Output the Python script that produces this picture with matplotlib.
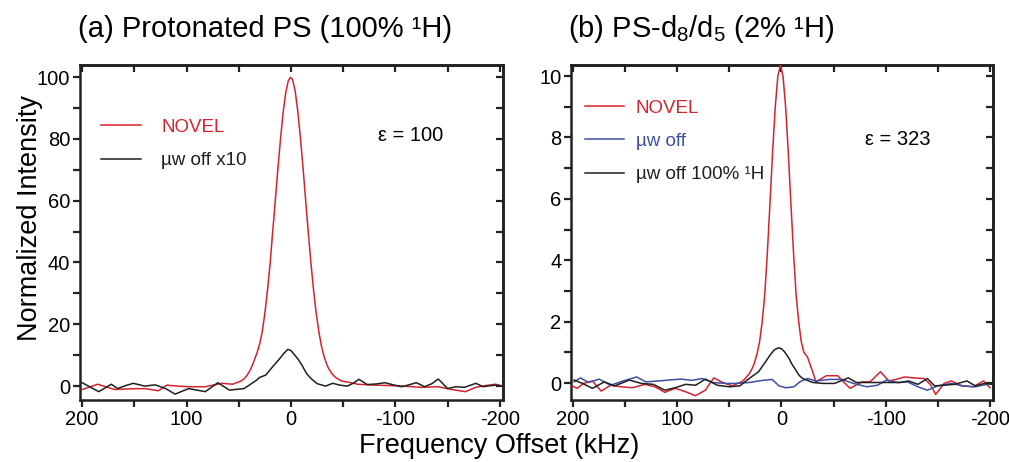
import matplotlib
matplotlib.use("Agg")
import matplotlib.pyplot as plt
from matplotlib.ticker import MultipleLocator

plt.rcParams['font.family'] = ['Liberation Sans', 'DejaVu Sans']
plt.rcParams['mathtext.fontset'] = 'custom'
plt.rcParams['mathtext.rm'] = 'Liberation Sans'
plt.rcParams['mathtext.it'] = 'Liberation Sans:italic'

# ---------------- data ----------------
# Panel (a): protonated PS
a_novel_x = [200, 185, 169, 155, 140, 127, 119, 108, 98, 82, 66, 56, 48, 45, 42.5, 40, 37.5, 35, 32.5, 30,
             27.5, 25, 22.5, 20, 17.5, 15, 12.5, 10, 7.5, 5, 2.5, 0.5, -1.5, -4, -6.5, -9, -11.5, -14,
             -16.5, -19, -21.5, -24, -26.5, -29, -31.5, -34, -36.5, -39, -42, -45, -49, -56, -64, -80,
             -93, -106, -116, -125, -141, -154, -167, -177, -187, -196, -202]
a_novel_y = [-1.1, 0.6, -1.1, -0.9, -0.8, -1.5, 0.3, 0.0, -0.2, -0.2, 0.9, 0.6, 1.6, 2.3, 3.3, 4.6, 6.3, 8.5, 10.8, 13.6,
             17.6, 23.5, 31, 39.5, 50, 60, 70.5, 80, 88.5, 95, 98.9, 99.9, 99.2, 95.5, 89, 80.5, 70.8, 60.3,
             50, 40.2, 31.5, 24, 18, 13.2, 9.8, 7.2, 5.4, 4.1, 3.0, 2.3, 1.6, 1.2, 0.6, 0.3,
             0.2, 0.0, -0.2, -0.4, -0.2, -1.1, -1.8, -0.4, 0.2, 0.6, 0.0]

a_off_x = [200, 184, 172, 166, 158, 151, 140, 130, 120, 111, 98, 82, 70, 59, 45, 40, 33, 30, 24, 17, 12, 7, 3, 0,
           -3, -7, -11, -15, -20, -25, -33, -40, -47, -54, -60, -65, -73, -82, -90, -98, -106, -113, -120,
           -128, -135, -141, -150, -158, -166, -172, -177, -184, -190, -196, -203]
a_off_y = [1.1, -1.8, 0.6, -0.8, 0.2, 0.9, 0.0, 0.4, -0.8, -2.6, -0.8, -1.8, 1.1, -1.3, -0.8, 0.3, 1.9, 2.8, 3.6, 6.5, 8.4, 10.5, 11.9, 11.5,
           10.3, 8.6, 6.5, 4.0, 2.2, 0.8, 0.0, 0.9, 0.3, 0.0, 1.0, 2.2, 0.5, 0.7, 1.1, 0.4, -0.2, 0.4, 1.1,
           -0.2, 0.8, 2.3, -0.8, -0.2, -0.4, 0.3, 0.9, -0.2, 0.1, 0.3, 0.0]

# Panel (b): PS-d8/d5
b_novel_x = [201, 196, 190, 181.5, 173, 164, 154, 143, 131, 121.5, 112, 102, 92, 82.5, 73, 65, 56.5, 47, 37, 31,
             28.5, 26, 23.5, 21, 18.5, 16, 13.5, 11, 8.5, 6, 3.5, 1, -1.5, -4, -6.5, -9, -11.5, -14, -16.5,
             -19, -21.5, -25, -27.5, -30, -33, -43, -54, -61, -66, -77, -85, -95, -103, -110, -118, -127,
             -137, -143, -148, -156, -163, -173, -184, -194, -200]
b_novel_y = [-0.09, -0.17, -0.01, 0.07, -0.26, -0.07, -0.12, -0.15, -0.04, -0.12, -0.30, -0.17, -0.28, -0.41, -0.23, 0.17, 0.02, -0.09, 0.07, 0.3,
             0.45, 0.65, 0.95, 1.35, 2.0, 2.9, 4.28, 5.88, 7.53, 8.98, 9.99, 10.35, 9.99, 8.98, 7.53, 5.88, 4.28, 2.9, 2.0,
             1.35, 1.0, 0.85, 0.6, 0.37, 0.04, 0.24, 0.24, -0.01, -0.17, 0.04, 0.04, 0.37, 0.07, 0.12, 0.2, 0.17,
             0.15, -0.05, -0.37, -0.01, 0.07, -0.09, -0.12, 0.07, -0.15]

b_off_x = [199, 193, 185, 175, 164, 152, 139, 130, 118, 105, 96, 86, 76, 66, 53, 44, 31, 18, 9, 2.4, -4, -7.3,
           -12, -18, -25, -33, -46, -58, -69, -82, -92, -101, -111, -121, -131, -140, -150, -163, -174, -186, -197]
b_off_y = [0.04, 0.17, 0.02, 0.13, -0.07, 0.07, 0.2, 0.04, 0.07, 0.11, 0.13, 0.09, 0.15, 0.02, -0.01, -0.01, 0.02, 0.09, 0.12, -0.09, -0.15, -0.14,
           -0.12, 0.05, 0.15, 0.07, 0.12, 0.12, -0.01, -0.12, -0.07, 0.1, 0.02, 0.04, -0.12, -0.23, -0.09, -0.01, -0.09, -0.12, -0.04]

b_ref_x = [199, 191, 181.5, 170, 160, 146, 134.5, 123, 112, 102, 92, 82.5, 73, 61.5, 50, 40, 31, 22, 15.4, 11, 7, 3, 0,
           -3, -7.3, -10, -13.8, -17, -20.3, -30, -40, -51, -64, -72, -87, -101, -114, -122, -131, -140, -147,
           -156, -166, -178, -186, -195, -202]
b_ref_y = [0.1, -0.01, -0.17, 0.04, -0.09, 0.1, -0.01, -0.04, -0.23, -0.15, -0.04, -0.07, 0.13, -0.07, -0.12, -0.09, 0.15, 0.37, 0.69, 0.91, 1.08, 1.15, 1.12,
           1.02, 0.8, 0.62, 0.42, 0.25, 0.15, 0.02, -0.01, -0.01, 0.17, 0.02, 0.02, 0.02, 0.02, 0.07, -0.04, 0.15, -0.09,
           -0.07, -0.04, 0.07, -0.09, -0.01, -0.04]

x_ticks = [200, 100, 0, -100, -200]
x_tick_labels = ['200', '100', '0', '-100', '-200']

RED = '#d3232e'
BLUE = '#3d4fa3'
BLACK = '#202020'

# ---------------- figure ----------------
fig = plt.figure(figsize=(10.09, 4.62), dpi=100)
W, H = 1009, 462

def make_ax(left_px, right_px):
    return fig.add_axes([left_px / W, (H - 400) / H, (right_px - left_px) / W, (400 - 65) / H])

axa = make_ax(80, 503)
axb = make_ax(571, 993)

LW = 1.1
axa.plot(a_novel_x, a_novel_y, color=RED, lw=LW, label='NOVEL', zorder=3)
axa.plot(a_off_x, a_off_y, color=BLACK, lw=LW, label='µw off x10', zorder=4)

axb.plot(b_novel_x, b_novel_y, color=RED, lw=LW, label='NOVEL', zorder=3)
axb.plot(b_off_x, b_off_y, color=BLUE, lw=LW, label='µw off', zorder=4)
axb.plot(b_ref_x, b_ref_y, color=BLACK, lw=LW, label='µw off 100% ¹H', zorder=5)

def style(ax, ylim, ymaj, ymin):
    ax.set_xlim(202, -203)
    ax.set_ylim(*ylim)
    ax.set_xticks(x_ticks)
    ax.set_xticklabels(x_tick_labels)
    ax.xaxis.set_minor_locator(MultipleLocator(50))
    ax.yaxis.set_major_locator(MultipleLocator(ymaj))
    ax.yaxis.set_minor_locator(MultipleLocator(ymin))
    for s in ax.spines.values():
        s.set_linewidth(1.8)
        s.set_color('#222222')
    ax.tick_params(which='both', direction='out', length=5, width=1.6, color='#222222',
                   labelsize=14.5, top=False, right=False, pad=2)
    sx = ax.secondary_xaxis('top')
    sx.set_xticks(x_ticks)
    sx.xaxis.set_minor_locator(MultipleLocator(50))
    sx.tick_params(which='both', direction='in', length=5, width=1.6, color='#222222', labeltop=False)
    sy = ax.secondary_yaxis('right')
    sy.yaxis.set_major_locator(MultipleLocator(ymaj))
    sy.yaxis.set_minor_locator(MultipleLocator(ymin))
    sy.tick_params(which='both', direction='in', length=5, width=1.6, color='#222222', labelright=False)
    for s in list(sx.spines.values()) + list(sy.spines.values()):
        s.set_linewidth(1.8)

style(axa, (-4.5, 103.9), 20, 10)
style(axb, (-0.55, 10.36), 2, 1)

axa.set_title('(a) Protonated PS (100% ¹H)', loc='left', fontsize=21, pad=20, x=-0.005)
axb.set_title('(b) PS-d$_8$/d$_5$ (2% ¹H)', loc='left', fontsize=21, pad=20, x=-0.007)

axa.legend(loc='upper left', bbox_to_anchor=(0.05, 0.839), frameon=False, fontsize=13.5,
           handlelength=2.1, handletextpad=1.1, labelspacing=0.86, borderpad=0, borderaxespad=0,
           labelcolor='linecolor')
axb.legend(loc='upper left', bbox_to_anchor=(0.033, 0.897), frameon=False, fontsize=13.5,
           handlelength=2.1, handletextpad=0.6, labelspacing=0.86, borderpad=0, borderaxespad=0,
           labelcolor='linecolor')

axa.text(0.704, 0.79, 'ε = 100', transform=axa.transAxes, fontsize=14.5, va='center', ha='left')
axb.text(0.697, 0.778, 'ε = 323', transform=axb.transAxes, fontsize=14.5, va='center', ha='left')

fig.text(30 / W, 1 - 218 / H, 'Normalized Intensity', rotation=90, fontsize=19.5, ha='center', va='center')
fig.text(499 / W, 1 - 446 / H, 'Frequency Offset (kHz)', fontsize=19.5, ha='center', va='center')

fig.savefig('out.png', dpi=100)
